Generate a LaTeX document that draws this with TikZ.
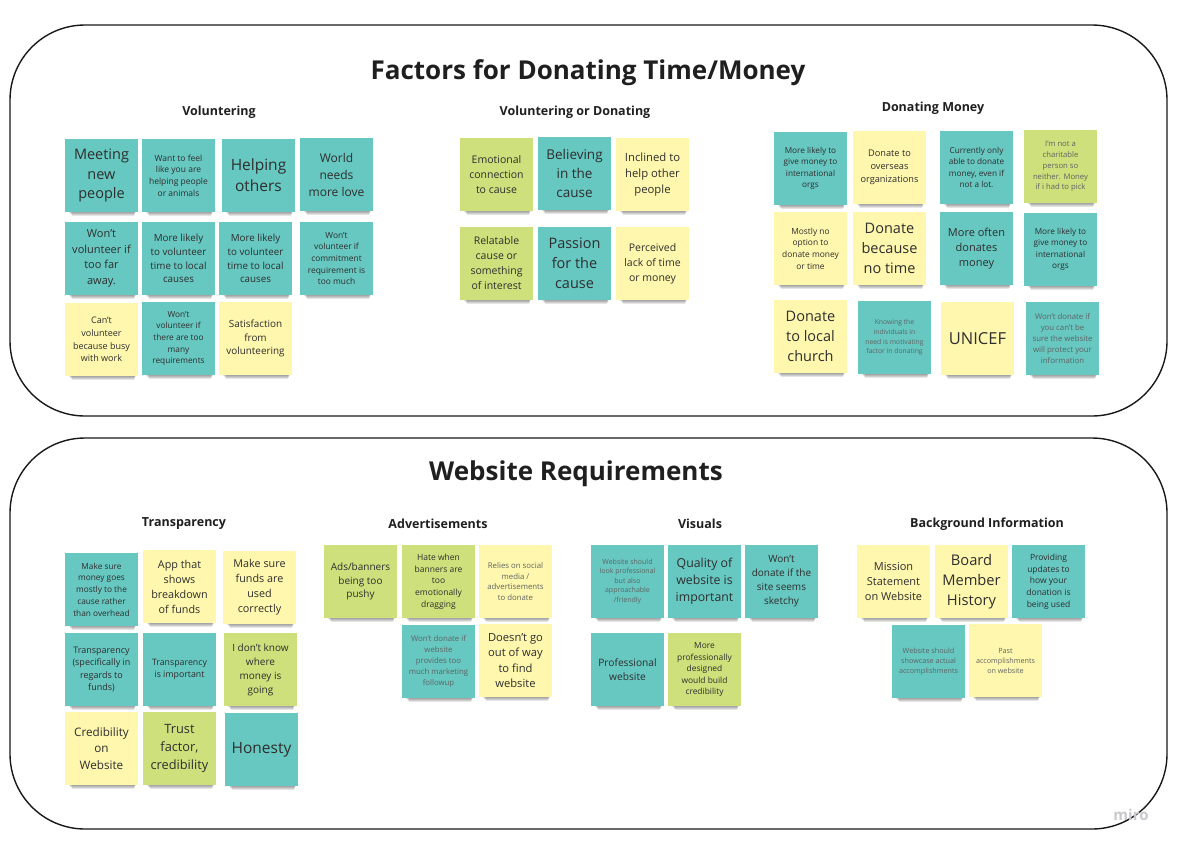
\documentclass[tikz,border=0pt]{standalone}
\usepackage{fontspec}
\setmainfont{Open Sans}
\definecolor{teal}{HTML}{67C7C1}
\definecolor{lemon}{HTML}{FFF7AD}
\definecolor{lime}{HTML}{CEE07C}
\definecolor{ink}{HTML}{2E2E2E}
\definecolor{pale}{HTML}{5E6464}
\definecolor{logo}{HTML}{C8C8CE}
\tikzset{
  board/.style={draw=black!90, line width=1.4pt, rounded corners=75pt},
  title/.style={font=\fontsize{26}{30}\selectfont\bfseries, text=black!88},
  heading/.style={font=\fontsize{12.5}{15}\selectfont\bfseries, text=black!88},
  sticky/.style={minimum width=73pt, minimum height=73pt, inner sep=2pt,
    align=center, text=ink, draw=none},
  T/.style={fill=teal},
  Y/.style={fill=lemon},
  G/.style={fill=lime},
  faint/.style={text=pale},
}
% sticky note: name, left x, top y, note style, font size, line skip, text
\newcommand\sticky[7]{%
  \foreach \k in {1,...,4}{%
    \fill[black, opacity=0.1] (#2+3+\k,#3+66) rectangle (#2+71-0.5*\k,#3+72.5+1.2*\k);
  }%
  \node[sticky, #4, font=\fontsize{#5}{#6}\selectfont] (#1) at (#2+36.5,#3+36.5) {#7};
}
\begin{document}
\begin{tikzpicture}[x=1pt,y=-1pt]
\useasboundingbox[fill=white] (0,0) rectangle (1177,849);

% two boards
\draw[board] (10,25) rectangle (1167,416);
\draw[board] (10,438) rectangle (1167,829);

\node[title] (t1) at (588,73) {Factors for Donating Time/Money};
\node[title] (t2) at (576,474) {Website Requirements};

\node[heading] (h1) at (219,112) {Voluntering};
\node[heading] (h2) at (575,112) {Voluntering or Donating};
\node[heading] (h3) at (933,108) {Donating Money};
\node[heading] (h4) at (184,524) {Transparency};
\node[heading] (h5) at (438,524) {Advertisements};
\node[heading] (h6) at (700,524) {Visuals};
\node[heading] (h7) at (987,524) {Background Information};

% Voluntering
\sticky{n1}{65}{139}{T}{14.5}{19.6}{Meeting\\new\\people}
\sticky{n2}{142}{139}{T}{8.5}{11.8}{Want to feel\\like you are\\helping people\\or animals}
\sticky{n3}{222}{139}{T}{15.5}{21}{Helping\\others}
\sticky{n4}{300}{138}{T}{12}{17}{World\\needs\\more love}
\sticky{n5}{65}{222}{T}{11}{15.5}{Won't\\volunteer if\\too far\\away.}
\sticky{n6}{142}{222}{T}{9.8}{13.7}{More likely\\to volunteer\\time to local\\causes}
\sticky{n7}{219}{222}{T}{9.8}{13.7}{More likely\\to volunteer\\time to local\\causes}
\sticky{n8}{300}{222}{T}{8.4}{11.7}{Won't\\volunteer if\\commitment\\requirement is\\too much}
\sticky{n9}{65}{303}{Y}{9}{12.6}{Can't\\volunteer\\because busy\\with work}
\sticky{n10}{142}{302}{T}{8.3}{11.6}{Won't\\volunteer if\\there are too\\many\\requirements}
\sticky{n11}{219}{302}{Y}{9.9}{13.8}{Satisfaction\\from\\volunteering}

% Voluntering or Donating
\sticky{m1}{460}{138}{G}{10.5}{15.3}{Emotional\\connection\\to cause}
\sticky{m2}{538}{137}{T}{13.5}{18.7}{Believing\\in the\\cause}
\sticky{m3}{616}{138}{Y}{11.3}{16.3}{Inclined to\\help other\\people}
\sticky{m4}{460}{227}{G}{10.5}{15}{Relatable\\cause or\\something\\of interest}
\sticky{m5}{538}{227}{T}{14.5}{20}{Passion\\for the\\cause}
\sticky{m6}{616}{227}{Y}{10.5}{15}{Perceived\\lack of time\\or money}

% Donating Money
\sticky{r1}{774}{132}{T}{8.2}{11.3}{More likely to\\give money to\\international\\orgs}
\sticky{r2}{853}{131}{Y}{9.2}{12.8}{Donate to\\overseas\\organizations}
\sticky{r3}{940}{131}{T}{8.2}{11.3}{Currently only\\able to donate\\money, even if\\not a lot.}
\sticky{r4}{1024}{130}{G,faint}{7.7}{10.7}{I'm not a\\charitable\\person so\\neither. Money\\if i had to pick}
\sticky{r5}{774}{212}{Y}{8.4}{11.7}{Mostly no\\option to\\donate money\\or time}
\sticky{r6}{853}{212}{Y}{14.5}{20}{Donate\\because\\no time}
\sticky{r7}{940}{212}{T}{11}{15}{More often\\donates\\money}
\sticky{r8}{1024}{213}{T}{8.2}{11.3}{More likely to\\give money to\\international\\orgs}
\sticky{r9}{774}{300}{Y}{14.5}{20}{Donate\\to local\\church}
\sticky{r10}{858}{301}{T,faint}{6.8}{9.6}{Knowing the\\individuals in\\need is motivating\\factor in donating}
\sticky{r11}{941}{302}{Y}{16.5}{20}{UNICEF}
\sticky{r12}{1026}{302}{T,faint}{7.8}{10.8}{Won't donate if\\you can't be\\sure the website\\will protect your\\information}

% Transparency
\sticky{b1}{65}{553}{T}{8.3}{11.7}{Make sure\\money goes\\mostly to the\\cause rather\\than overhead}
\sticky{b2}{143}{550}{Y}{10.8}{15}{App that\\shows\\breakdown\\of funds}
\sticky{b3}{223}{551}{Y}{10.8}{15}{Make sure\\funds are\\used\\correctly}
\sticky{b4}{65}{633}{T}{9}{12.5}{Transparency\\(specifically in\\regards to\\funds)}
\sticky{b5}{143}{633}{T}{8.8}{12}{Transparency\\is important}
\sticky{b6}{224}{633}{G}{10}{14}{I don't know\\where\\money is\\going}
\sticky{b7}{65}{712}{Y}{11.7}{16.3}{Credibility\\on\\Website}
\sticky{b8}{143}{712}{G}{12.8}{17.8}{Trust\\factor,\\credibility}
\sticky{b9}{225}{713}{T}{15.5}{20}{Honesty}

% Advertisements
\sticky{a1}{324}{545}{G}{10}{13.7}{Ads/banners\\being too\\pushy}
\sticky{a2}{402}{545}{G}{8.5}{11.7}{Hate when\\banners are\\too\\emotionally\\dragging}
\sticky{a3}{479}{545}{Y,faint}{7.8}{10.8}{Relies on social\\media /\\advertisements\\to donate}
\sticky{a4}{402}{625}{T,faint}{7.8}{10.8}{Won't donate if\\website\\provides too\\much marketing\\followup}
\sticky{a5}{479}{624}{Y}{11.2}{15.5}{Doesn't go\\out of way\\to find\\website}

% Visuals
\sticky{v1}{591}{545}{T,faint}{7}{9.6}{Website should\\look professional\\but also\\approachable\\/friendly}
\sticky{v2}{668}{545}{T}{12.3}{17}{Quality of\\website is\\important}
\sticky{v3}{745}{545}{T}{10}{14}{Won't\\donate if the\\site seems\\sketchy}
\sticky{v4}{591}{633}{T}{10.2}{14.3}{Professional\\website}
\sticky{v5}{668}{633}{G}{8.4}{11.5}{More\\professionally\\designed\\would build\\credibility}

% Background Information
\sticky{g1}{857}{545}{Y}{11}{15}{Mission\\Statement\\on Website}
\sticky{g2}{935}{545}{Y}{14.7}{20}{Board\\Member\\History}
\sticky{g3}{1012}{545}{T}{8.5}{11.7}{Providing\\updates to\\how your\\donation is\\being used}
\sticky{g4}{892}{625}{T,faint}{7.2}{10}{Website should\\showcase actual\\accomplishments}
\sticky{g5}{969}{624}{Y,faint}{7.2}{10}{Past\\accomplishments\\on website}

\node[font=\fontsize{15}{18}\selectfont\bfseries, text=logo] (logo) at (1131,815) {miro};
\end{tikzpicture}
\end{document}
